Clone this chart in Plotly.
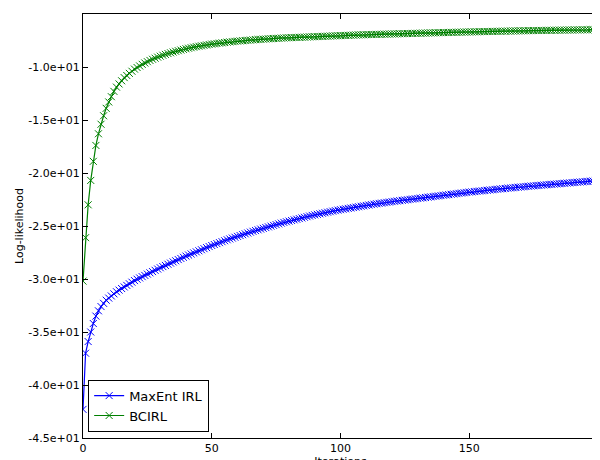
import plotly.graph_objects as go

iterations = list(range(201))

bcirl = [-30.2, -26.1, -23.0, -20.7, -18.9, -17.4, -16.3, -15.4, -14.6, -13.9,
 -13.3, -12.8, -12.3, -11.9, -11.6, -11.3, -11.0, -10.8, -10.6, -10.4,
 -10.2, -10.05, -9.9, -9.75, -9.62, -9.5, -9.38, -9.27, -9.17, -9.07,
 -8.98, -8.89, -8.81, -8.73, -8.66, -8.59, -8.52, -8.46, -8.4, -8.34,
 -8.28, -8.23, -8.18, -8.13, -8.08, -8.04, -8.0, -7.96, -7.92, -7.88,
 -7.84, -7.81, -7.78, -7.75, -7.72, -7.69, -7.66, -7.63, -7.61, -7.58, -7.56,
 -7.54, -7.52, -7.50, -7.48, -7.46, -7.44, -7.42, -7.41, -7.39, -7.37,
 -7.36, -7.34, -7.33, -7.31, -7.30, -7.29, -7.27, -7.26, -7.25, -7.24,
 -7.23, -7.22, -7.21, -7.20, -7.19, -7.18, -7.17, -7.16, -7.15, -7.14,
 -7.13, -7.12, -7.11, -7.10, -7.09, -7.08, -7.07, -7.06, -7.05, -7.04,
 -7.03, -7.02, -7.01, -7.00, -6.99, -6.98, -6.97, -6.965, -6.96, -6.95,
 -6.94, -6.94, -6.93, -6.92, -6.92, -6.91, -6.90, -6.90, -6.89, -6.88,
 -6.88, -6.87, -6.86, -6.86, -6.85, -6.84, -6.84, -6.83, -6.82, -6.82,
 -6.81, -6.80, -6.80, -6.79, -6.78, -6.78, -6.77, -6.76, -6.76, -6.75,
 -6.75, -6.74, -6.73, -6.73, -6.72, -6.72, -6.71, -6.70, -6.70, -6.69,
 -6.69, -6.68, -6.68, -6.67, -6.66, -6.66, -6.65, -6.65, -6.64, -6.64,
 -6.63, -6.63, -6.62, -6.62, -6.61, -6.61, -6.60, -6.60, -6.59, -6.59,
 -6.58, -6.58, -6.57, -6.57, -6.56, -6.56, -6.56, -6.55, -6.55, -6.54,
 -6.54, -6.54, -6.53, -6.53, -6.52, -6.52, -6.52, -6.51, -6.51, -6.51,
 -6.50, -6.50, -6.50, -6.49, -6.49, -6.49, -6.48, -6.48, -6.48, -6.47]

maxent = [-42.3, -37.0, -35.9, -35.0, -34.2, -33.5, -33.0, -32.6, -32.3, -32.0,
 -31.8, -31.6, -31.4, -31.2, -31.05, -30.9, -30.75, -30.6, -30.45, -30.3, -30.15,
 -30.02, -29.9, -29.78, -29.66, -29.54, -29.42, -29.3, -29.18, -29.06, -28.94,
 -28.83, -28.72, -28.61, -28.5, -28.39, -28.28, -28.17, -28.06, -27.95, -27.84,
 -27.74, -27.64, -27.54, -27.44, -27.34, -27.24, -27.14, -27.04, -26.94, -26.84,
 -26.75, -26.66, -26.57, -26.48, -26.39, -26.3, -26.22, -26.14, -26.06, -25.98,
 -25.9, -25.82, -25.74, -25.66, -25.58, -25.5, -25.43, -25.36, -25.29, -25.22,
 -25.15, -25.08, -25.01, -24.94, -24.87, -24.8, -24.73, -24.66, -24.6, -24.54,
 -24.48, -24.42, -24.36, -24.3, -24.24, -24.18, -24.12, -24.06, -24.0, -23.95,
 -23.9, -23.85, -23.8, -23.75, -23.7, -23.65, -23.6, -23.55, -23.5, -23.46,
 -23.42, -23.38, -23.34, -23.3, -23.26, -23.22, -23.18, -23.14, -23.1, -23.06,
 -23.02, -22.98, -22.94, -22.9, -22.87, -22.84, -22.8, -22.77, -22.74, -22.7,
 -22.67, -22.64, -22.61, -22.58, -22.55, -22.52, -22.49, -22.46, -22.43, -22.4,
 -22.37, -22.34, -22.31, -22.28, -22.25, -22.22, -22.19, -22.16, -22.13, -22.1,
 -22.07, -22.04, -22.01, -21.98, -21.95, -21.92, -21.89, -21.86, -21.83, -21.8,
 -21.78, -21.75, -21.73, -21.7, -21.68, -21.65, -21.63, -21.6, -21.58, -21.55,
 -21.53, -21.5, -21.48, -21.46, -21.43, -21.41, -21.39, -21.36, -21.34, -21.32,
 -21.3, -21.27, -21.25, -21.23, -21.21, -21.19, -21.17, -21.15, -21.13, -21.11,
 -21.09, -21.07, -21.05, -21.03, -21.01, -20.99, -20.97, -20.95, -20.93, -20.91,
 -20.89, -20.87, -20.85, -20.83, -20.81, -20.79, -20.77, -20.75, -20.73, -20.71]

y_ticks = [-45, -40, -35, -30, -25, -20, -15, -10, -5]
y_tick_labels = ["-4.5e+01", "-4.0e+01", "-3.5e+01", "-3.0e+01", "-2.5e+01",
                 "-2.0e+01", "-1.5e+01", "-1.0e+01", "-5.0e+00"]
x_ticks = [0, 50, 100, 150, 200]

fig = go.Figure()
fig.add_trace(go.Scatter(x=iterations, y=maxent, name="MaxEnt IRL", mode="lines+markers",
                         line=dict(color="#0000ff", width=1.2),
                         marker=dict(symbol="x-thin-open", size=7, line=dict(color="#0000ff", width=1))))
fig.add_trace(go.Scatter(x=iterations, y=bcirl, name="BCIRL", mode="lines+markers",
                         line=dict(color="#008000", width=1.2),
                         marker=dict(symbol="x-thin-open", size=7, line=dict(color="#008000", width=1))))

axis_common = dict(showgrid=False, zeroline=False, showline=True, mirror="ticks",
                   linecolor="black", linewidth=1, ticks="inside", ticklen=5,
                   tickcolor="black", tickfont=dict(size=11, color="black"),
                   automargin=False)
fig.update_xaxes(range=[0, 200], tickvals=x_ticks,
                 title=dict(text="Iterations", font=dict(size=11), standoff=0), **axis_common)
fig.update_yaxes(range=[-45, -5], tickvals=y_ticks, ticktext=y_tick_labels,
                 title=dict(text="Log-likelihood", font=dict(size=11), standoff=2), **axis_common)
fig.update_layout(width=600, height=460, margin=dict(l=75, r=10, t=6, b=30),
                  plot_bgcolor="white", paper_bgcolor="white",
                  font=dict(family="DejaVu Sans", size=11, color="black"),
                  legend=dict(x=0.01, y=0.015, xanchor="left", yanchor="bottom",
                              bordercolor="black", borderwidth=1, bgcolor="white",
                              font=dict(size=13)))
fig.write_html("out.html")
